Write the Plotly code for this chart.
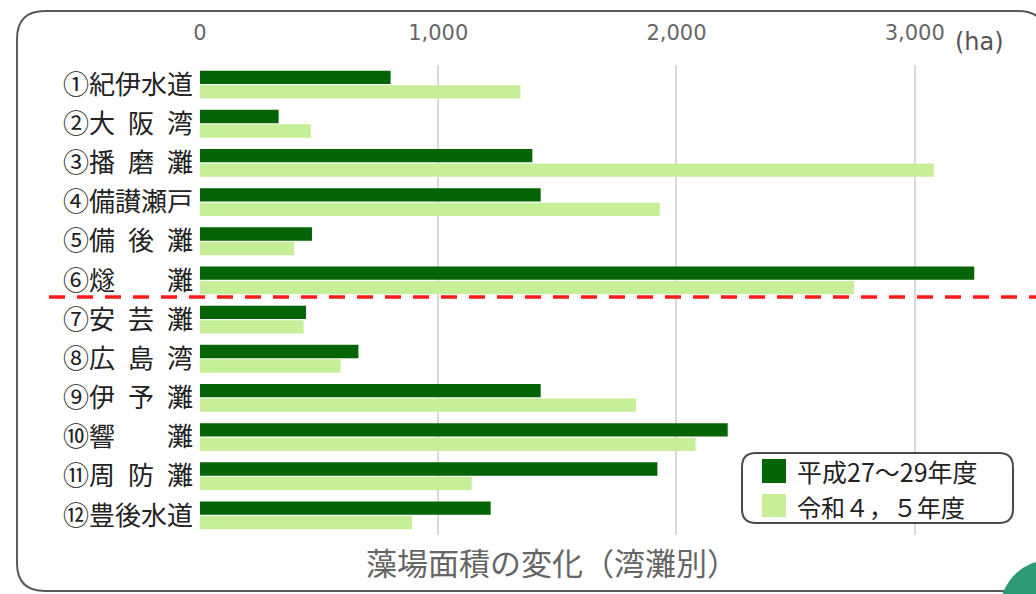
import plotly.graph_objects as go

# Seaweed-bed area by bay / sea area (ha)
bays = [
    "①紀伊水道",
    "②大\u2002阪\u2002湾",
    "③播\u2002磨\u2002灘",
    "④備讃瀬戸",
    "⑤備\u2002後\u2002灘",
    "⑥燧\u3000\u3000灘",
    "⑦安\u2002芸\u2002灘",
    "⑧広\u2002島\u2002湾",
    "⑨伊\u2002予\u2002灘",
    "⑩響\u3000\u3000灘",
    "⑪周\u2002防\u2002灘",
    "⑫豊後水道",
]
area_h27_29 = [800, 330, 1395, 1430, 470, 3250, 445, 665, 1430, 2215, 1920, 1220]
area_r4_5 = [1345, 465, 3080, 1930, 395, 2745, 435, 590, 1830, 2080, 1140, 890]
series_names = ["平成27～29年度", "令和４，５年度"]
tick_vals = [0, 1000, 2000, 3000]
tick_text = ["0", "1,000", "2,000", "3,000"]
unit_label = "(ha)"
chart_title = "藻場面積の変化（湾灘別）"

DARK = "#056405"
LIGHT = "#c6ef98"
JP_FONT = "Noto Sans CJK JP"

W, H = 1036, 594
L, R, T, B = 200, 1010, 65, 535  # plot area in pixels


def px_x(x):
    return (x - L) / (R - L)


def px_y(y):
    return (B - y) / (B - T)


def rounded_rect(x0, y0, x1, y1, r):
    pts = [
        ("M", (x0 + r, y0)), ("L", (x1 - r, y0)),
        ("Q", (x1, y0), (x1, y0 + r)), ("L", (x1, y1 - r)),
        ("Q", (x1, y1), (x1 - r, y1)), ("L", (x0 + r, y1)),
        ("Q", (x0, y1), (x0, y1 - r)), ("L", (x0, y0 + r)),
        ("Q", (x0, y0), (x0 + r, y0)),
    ]
    out = []
    for item in pts:
        cmd, coords = item[0], item[1:]
        out.append(cmd + " ".join(f"{px_x(a):.5f},{px_y(b):.5f}" for a, b in coords))
    return " ".join(out) + " Z"


fig = go.Figure()
fig.add_trace(go.Bar(y=bays, x=area_h27_29, name=series_names[0], orientation="h",
                     marker=dict(color=DARK, line=dict(width=0)), showlegend=False))
fig.add_trace(go.Bar(y=bays, x=area_r4_5, name=series_names[1], orientation="h",
                     marker=dict(color=LIGHT, line=dict(width=0)), showlegend=False))

shapes = [
    # outer rounded frame
    dict(type="path", xref="paper", yref="paper", path=rounded_rect(17, 11, 1046, 591, 28),
         line=dict(color="#5a5a5a", width=2), fillcolor="rgba(0,0,0,0)", layer="below"),
    # divider between the eastern and western sea areas
    dict(type="line", xref="paper", yref="paper", x0=px_x(49), x1=px_x(1040),
         y0=px_y(297), y1=px_y(297), line=dict(color="#ff1a1a", width=3.5, dash="16px,12px")),
    # legend box
    dict(type="path", xref="paper", yref="paper", path=rounded_rect(742, 453, 1013, 523, 14),
         line=dict(color="#4a4a4a", width=2), fillcolor="white"),
    dict(type="rect", xref="paper", yref="paper", x0=px_x(762), x1=px_x(786),
         y0=px_y(459), y1=px_y(483), line=dict(width=0), fillcolor=DARK),
    dict(type="rect", xref="paper", yref="paper", x0=px_x(762), x1=px_x(786),
         y0=px_y(494), y1=px_y(517), line=dict(width=0), fillcolor=LIGHT),
    # corner badge
    dict(type="circle", xref="paper", yref="paper", x0=px_x(1000), x1=px_x(1100),
         y0=px_y(560), y1=px_y(660), line=dict(width=0), fillcolor="#2f9b76"),
]

annotations = [
    dict(text=unit_label, xref="paper", yref="paper", x=px_x(953), y=px_y(42),
         xanchor="left", yanchor="middle", showarrow=False,
         font=dict(family="DejaVu Sans", size=24, color="#555555")),
    dict(text=series_names[0], xref="paper", yref="paper", x=px_x(795), y=px_y(471),
         xanchor="left", yanchor="middle", showarrow=False,
         font=dict(family=JP_FONT, size=25, color="#222222")),
    dict(text=series_names[1], xref="paper", yref="paper", x=px_x(795), y=px_y(506),
         xanchor="left", yanchor="middle", showarrow=False,
         font=dict(family=JP_FONT, size=24, color="#222222")),
    dict(text=chart_title, xref="paper", yref="paper", x=px_x(552), y=px_y(561),
         xanchor="center", yanchor="middle", showarrow=False,
         font=dict(family=JP_FONT, size=31, color="#666666")),
]

fig.update_layout(
    width=W, height=H,
    margin=dict(l=L, r=W - R, t=T, b=H - B, pad=0),
    paper_bgcolor="white", plot_bgcolor="white",
    barmode="group", bargap=0.26, bargroupgap=0.08,
    font=dict(family=JP_FONT),
    shapes=shapes, annotations=annotations,
    showlegend=False,
    xaxis=dict(side="top", range=[0, 3400], tickvals=tick_vals, ticktext=tick_text,
               showgrid=True, gridcolor="#d9d9d9", gridwidth=1.5, zeroline=False,
               showline=False, ticks="", ticklabelstandoff=20,
               tickfont=dict(family="DejaVu Sans", size=21, color="#666666")),
    yaxis=dict(autorange="reversed", showgrid=False, zeroline=False, showline=False,
               ticks="", ticklabelstandoff=6,
               tickfont=dict(family=JP_FONT, size=26, color="#222222")),
)

fig.write_html("out.html")
